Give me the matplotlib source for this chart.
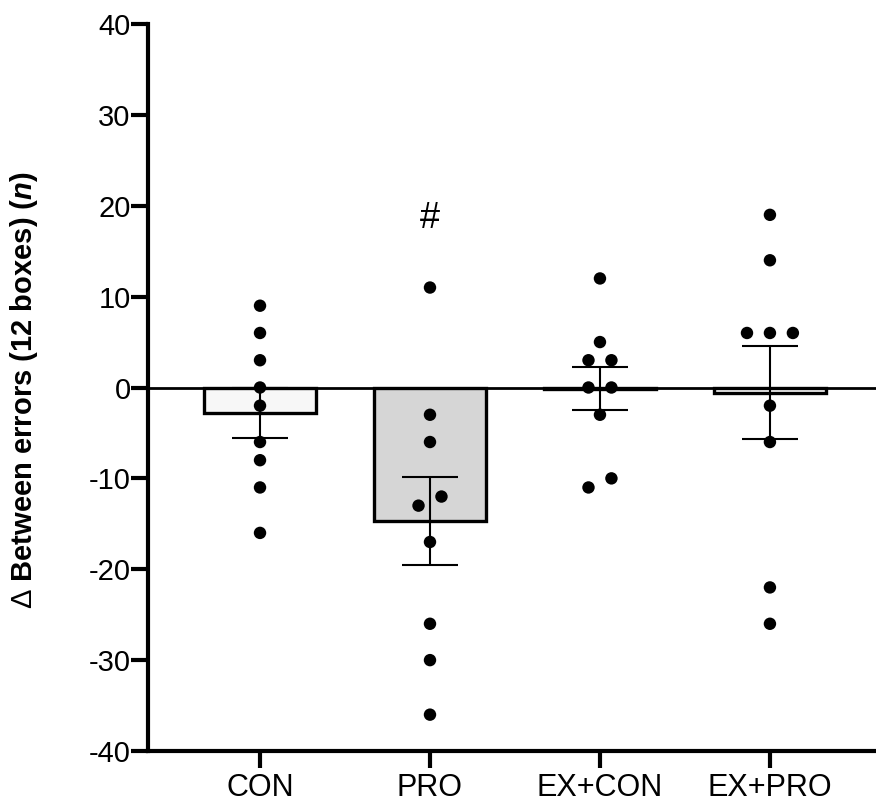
import numpy as np
import matplotlib
matplotlib.use("Agg")
import matplotlib.pyplot as plt

# ---- data -------------------------------------------------------------
groups = ["CON", "PRO", "EX+CON", "EX+PRO"]
con = [9, 6, 3, 0, -2, -6, -8, -11, -16]
pro = [11, -3, -6, -12, -13, -17, -26, -30, -36]
ex_con = [12, 5, 3, 3, 0, 0, -3, -10, -11]
ex_pro = [19, 14, 6, 6, 6, -2, -6, -22, -26]
bar_fills = ["#f7f7f7", "#d6d6d6", "#ffffff", "#ffffff"]
yticks = [-40, -30, -20, -10, 0, 10, 20, 30, 40]
marks = {"PRO": "#"}

series = [con, pro, ex_con, ex_pro]
means = [np.mean(v) for v in series]
sems = [np.std(v, ddof=1) / np.sqrt(len(v)) for v in series]

# ---- styling ----------------------------------------------------------
plt.rcParams["font.family"] = ["Liberation Sans", "DejaVu Sans"]
plt.rcParams["mathtext.fontset"] = "custom"
plt.rcParams["mathtext.rm"] = "Liberation Sans"
plt.rcParams["mathtext.it"] = "Liberation Sans:italic:bold"
plt.rcParams["mathtext.bf"] = "Liberation Sans:bold"


def swarm_offsets(values, gap=1.5, step=0.135):
    """Spread overlapping points sideways, centred on the category."""
    order = np.argsort(values)
    vals = np.asarray(values, float)[order]
    offs = np.zeros(len(vals))
    start = 0
    for i in range(1, len(vals) + 1):
        if i == len(vals) or vals[i] - vals[i - 1] >= gap:
            n = i - start
            offs[start:i] = (np.arange(n) - (n - 1) / 2) * step
            start = i
    out = np.zeros(len(vals))
    out[order] = offs
    return out


W, H = 876, 808
fig = plt.figure(figsize=(W / 100, H / 100), dpi=100)
left, right, bottom, top = 148, 876, 751, 24
ax = fig.add_axes([left / W, 1 - bottom / H, (right - left) / W, (bottom - top) / H])

xpos = np.arange(len(groups))
ax.bar(xpos, means, width=0.66, color=bar_fills, edgecolor="black",
       linewidth=2.4, zorder=2)
ax.axhline(0, color="black", lw=2.0, zorder=3)
ax.errorbar(xpos, means, yerr=sems, fmt="none", ecolor="black",
            elinewidth=1.5, capsize=20.5, capthick=1.5, zorder=4)

for i, vals in enumerate(series):
    ax.scatter(i + swarm_offsets(vals), vals, s=80, color="black",
               edgecolors="none", zorder=5)

for name, sym in marks.items():
    i = groups.index(name)
    ax.text(i, 18.6, sym, ha="center", va="center", fontsize=26)

ax.set_xlim(-0.659, 3.624)
ax.set_ylim(-40, 40)
ax.set_yticks(yticks)
ax.set_yticklabels([str(t) for t in yticks], fontsize=21)
ax.set_xticks(xpos)
ax.set_xticklabels(groups, fontsize=22)

for side in ("top", "right"):
    ax.spines[side].set_visible(False)
for side in ("left", "bottom"):
    ax.spines[side].set_linewidth(3.0)
    ax.spines[side].set_capstyle("projecting")
ax.tick_params(axis="both", direction="out", length=12, width=3.0)
ax.tick_params(axis="y", pad=0.5)
ax.tick_params(axis="x", pad=4)

fig.text(24 / W, 1 - 390 / H,
         r"$\Delta$ Between errors (12 boxes) ($\mathit{n}$)",
         rotation=90, ha="center", va="center", fontsize=21,
         fontweight="bold")

fig.savefig("out.png", dpi=100)
